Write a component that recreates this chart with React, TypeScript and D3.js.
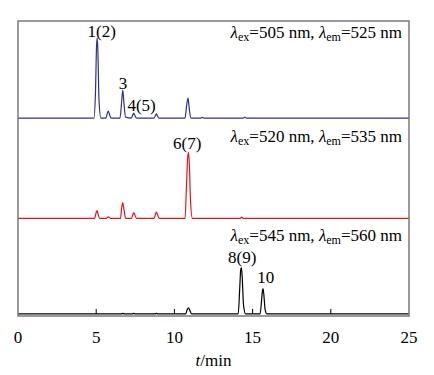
import React from "react";
import * as d3 from "d3";

// time (min), signal (a.u.) for each chromatogram, baseline-relative
const blueTrace: [number, number][] = [
  [0, 0], [4.85, 0], [4.95, 8], [5.02, 24], [5.06, 27.2], [5.1, 24], [5.18, 6], [5.3, 0],
  [5.62, 0], [5.72, 1.8], [5.77, 2.4], [5.83, 1.6], [5.95, 0],
  [6.52, 0], [6.62, 5], [6.7, 9.5], [6.76, 6], [6.88, 0.3],
  [7.25, 0], [7.35, 1.2], [7.4, 1.7], [7.46, 1.0], [7.58, 0],
  [8.7, 0], [8.8, 1.0], [8.85, 1.4], [8.9, 0.9], [9.02, 0],
  [10.68, 0], [10.78, 4.2], [10.87, 6.8], [10.93, 4.2], [11.05, 0],
  [11.7, 0], [11.8, 0.25], [11.9, 0],
  [14.4, 0], [14.5, 0.3], [14.6, 0], [25, 0],
];
const redTrace: [number, number][] = [
  [0, 0], [4.9, 0], [5.0, 2.0], [5.05, 2.6], [5.1, 1.8], [5.22, 0],
  [5.65, 0], [5.73, 0.4], [5.77, 0.5], [5.82, 0.35], [5.92, 0],
  [6.55, 0], [6.64, 4.0], [6.7, 5.3], [6.76, 3.6], [6.88, 0],
  [7.26, 0], [7.35, 1.4], [7.4, 1.9], [7.46, 1.3], [7.58, 0],
  [8.7, 0], [8.8, 1.6], [8.85, 2.1], [8.91, 1.4], [9.03, 0],
  [10.68, 0], [10.78, 12], [10.84, 20], [10.9, 22.4], [10.96, 18], [11.03, 6], [11.15, 0],
  [14.2, 0], [14.3, 0.4], [14.4, 0], [25, 0],
];
const blackTrace: [number, number][] = [
  [0, 0], [6.6, 0], [6.7, 0.2], [6.8, 0], [7.3, 0], [7.4, 0.2], [7.5, 0],
  [8.75, 0], [8.85, 0.2], [8.95, 0],
  [10.72, 0], [10.82, 1.5], [10.9, 2.1], [10.97, 1.4], [11.1, 0],
  [14.08, 0], [14.18, 9], [14.24, 15], [14.28, 15.7], [14.33, 13], [14.42, 3], [14.55, 0],
  [15.48, 0], [15.58, 5], [15.64, 8.2], [15.67, 8.5], [15.72, 6.5], [15.8, 1.5], [15.92, 0],
  [25, 0],
];
const traceOffsets = [67.1, 33.1, 0.7];
const traceColors = ["#2e3192", "#e5141b", "#000000"];

const xTicks = [0, 5, 10, 15, 20, 25];

// peak labels: text, time (min), signal level of baseline
const peakLabels: { text: string; t: number; v: number }[] = [
  { text: "1(2)", t: 5.35, v: 94.6 },
  { text: "3", t: 6.71, v: 77.1 },
  { text: "4(5)", t: 7.9, v: 69.5 },
  { text: "6(7)", t: 10.82, v: 56.6 },
  { text: "8(9)", t: 14.34, v: 17.8 },
  { text: "10", t: 15.84, v: 11.3 },
];
// condition labels: excitation, emission, baseline level
const conditions: { ex: string; em: string; v: number }[] = [
  { ex: "505", em: "525", v: 94.2 },
  { ex: "520", em: "535", v: 59.1 },
  { ex: "545", em: "560", v: 25.5 },
];

const W = 434, H = 375;
const left = 18, right = 409, top = 21, bottom = 316;

export default function App() {
  const x = d3.scaleLinear().domain([0, 25]).range([left, right]);
  const y = d3.scaleLinear().domain([0, 100]).range([bottom, top]);
  const traces = [blueTrace, redTrace, blackTrace];
  const line = (off: number) =>
    d3.line<[number, number]>().x((d) => x(d[0])).y((d) => y(d[1] + off)).curve(d3.curveMonotoneX);
  const blackBase = y(traceOffsets[2]);
  const T = (props: any) => (
    <text fontFamily="Liberation Serif" fontSize={17} style={{ fontFamily: '"Liberation Serif"', fontSize: "17px" }} {...props} />
  );
  return (
    <svg width={W - 8} height={H - 8} fontFamily="Liberation Serif" style={{ display: "block", marginBottom: "-8px", fontFamily: '"Liberation Serif"' }}>
      <g transform="translate(-8,-8)">
        <rect x={0} y={0} width={W} height={H} fill="#fff" />
        {traces.map((tr, i) => (
          <path key={i} d={line(traceOffsets[i])(tr) || ""} fill="none" stroke={traceColors[i]} strokeWidth={1.2} />
        ))}
        {xTicks.slice(1, -1).map((t) => (
          <line key={t} x1={x(t)} x2={x(t)} y1={blackBase} y2={blackBase - 5} stroke="#000" strokeWidth={1} />
        ))}
        <rect x={left} y={top} width={right - left} height={bottom - top} fill="none" stroke="#7a7a7a" strokeWidth={1.5} />
        {xTicks.map((t) => (
          <T key={t} x={x(t)} y={343} textAnchor="middle">{String(t)}</T>
        ))}
        <T x={(left + right) / 2} y={366} textAnchor="middle">
          <tspan fontStyle="italic">t</tspan>/min
        </T>
        {peakLabels.map((p) => (
          <T key={p.text} x={x(p.t)} y={y(p.v)} textAnchor="middle">{p.text}</T>
        ))}
        {conditions.map((c, i) => (
          <T key={i} x={402} y={y(c.v)} textAnchor="end">
            <tspan fontStyle="italic">λ</tspan>
            <tspan fontSize={12} style={{ fontSize: "12px" }} dy={3}>ex</tspan>
            <tspan dy={-3}>={c.ex} nm, </tspan>
            <tspan fontStyle="italic">λ</tspan>
            <tspan fontSize={12} style={{ fontSize: "12px" }} dy={3}>em</tspan>
            <tspan dy={-3}>={c.em} nm</tspan>
          </T>
        ))}
      </g>
    </svg>
  );
}
